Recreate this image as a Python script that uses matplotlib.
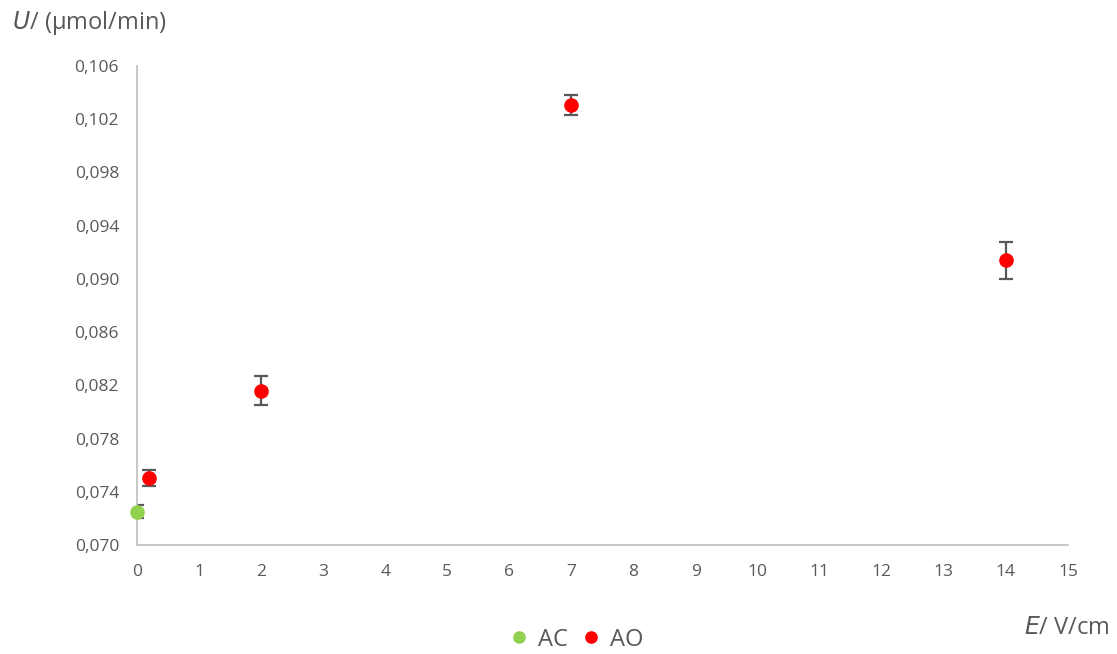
import numpy as np
import matplotlib.pyplot as plt
from matplotlib.ticker import FuncFormatter

# electric field (V/cm) and uptake rate (umol/min)
ac_E = [0.0]
ac_U = [0.0725]
ac_err = [0.0005]

ao_E = [0.2, 2, 7, 14]
ao_U = [0.0750, 0.0816, 0.1031, 0.0914]
ao_err = [0.0006, 0.0011, 0.00075, 0.0014]

plt.rcParams['font.family'] = ['Open Sans', 'DejaVu Sans']
grey = '#595959'

fig = plt.figure(figsize=(11.17, 6.54), dpi=100)
ax = fig.add_axes([0.1227, 0.1667, 0.8334, 0.7324])

for E, U, err, col, lab in [(ac_E, ac_U, ac_err, '#92D050', 'AC'),
                            (ao_E, ao_U, ao_err, '#FF0000', 'AO')]:
    ax.errorbar(E, U, yerr=err, fmt='none', ecolor=grey, elinewidth=1.6,
                capsize=5, capthick=1.6, zorder=2)
    ax.plot(E, U, 'o', color=col, markersize=9.5, label=lab, zorder=3,
            clip_on=False)

ax.set_xlim(0, 15)
ax.set_ylim(0.070, 0.106)
ax.set_xticks(np.arange(0, 16, 1))
ax.set_yticks(np.arange(0.070, 0.1061, 0.004))
ax.yaxis.set_major_formatter(FuncFormatter(lambda v, p: f'{v:.3f}'.replace('.', ',')))
ax.tick_params(length=0, colors=grey, labelsize=12.5)
ax.tick_params(axis='x', pad=14)
ax.tick_params(axis='y', pad=13)

for s in ['top', 'right']:
    ax.spines[s].set_visible(False)
for s in ['left', 'bottom']:
    ax.spines[s].set_color('#BFBFBF')
    ax.spines[s].set_linewidth(1.2)

fig.text(0.011, 0.965, r'$\it{U}$/ (μmol/min)', fontsize=17, color=grey, va='center')
fig.text(0.993, 0.040, r'$\it{E}$/ V/cm', fontsize=17, color=grey,
         ha='right', va='center')

fig.legend(loc='center', bbox_to_anchor=(0.51, 0.022), ncol=2, frameon=False,
           fontsize=17, handletextpad=-0.2, columnspacing=0.0, markerscale=0.85,
           labelcolor=grey)

fig.savefig('out.png', dpi=100)
